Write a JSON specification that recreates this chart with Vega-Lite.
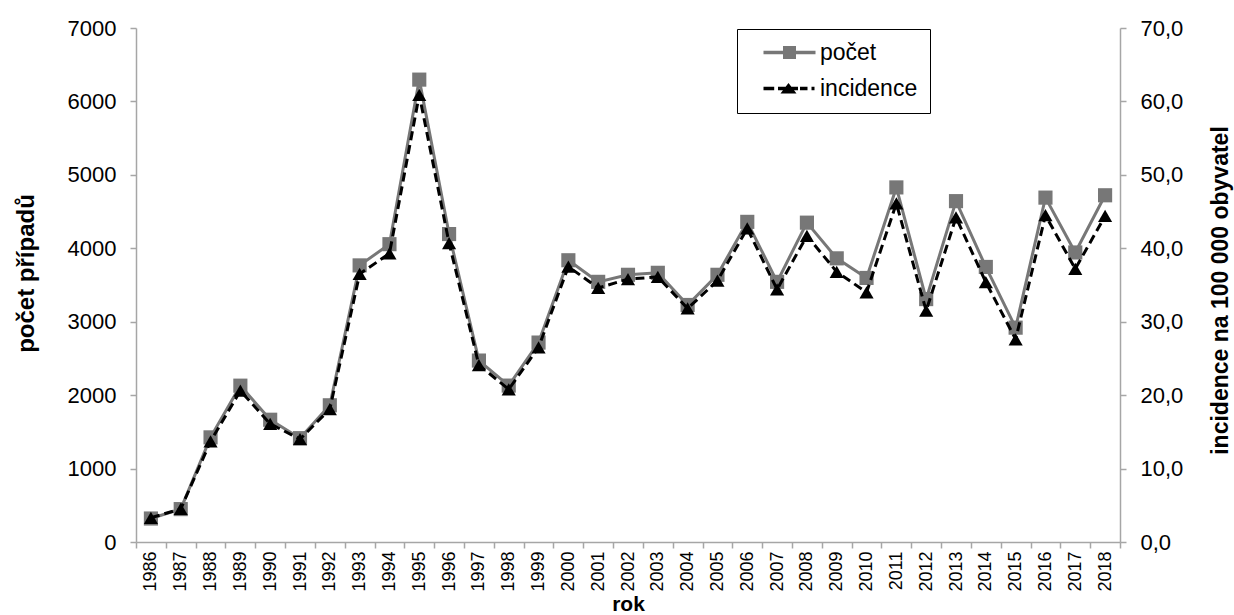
{
  "$schema": "https://vega.github.io/schema/vega-lite/v6.json",
  "width": 984,
  "height": 514,
  "autosize": {"type": "none"},
  "padding": {"left": 136, "top": 28, "right": 114, "bottom": 73},
  "background": "white",
  "config": {
    "view": {"stroke": null},
    "font": "Liberation Sans",
    "axis": {"grid": false, "domainColor": "#a6a6a6", "tickColor": "#a6a6a6", "labelColor": "black", "titleColor": "black", "labelFont": "Liberation Sans", "titleFont": "Liberation Sans", "domainWidth": 1.5, "tickWidth": 1.5}
  },
  "data": {
    "values": [
      {"rok": 1986, "pocet": 320, "incidence": 3.3},
      {"rok": 1987, "pocet": 448, "incidence": 4.5},
      {"rok": 1988, "pocet": 1425, "incidence": 13.7},
      {"rok": 1989, "pocet": 2129, "incidence": 20.6},
      {"rok": 1990, "pocet": 1665, "incidence": 16.1},
      {"rok": 1991, "pocet": 1414, "incidence": 14.0},
      {"rok": 1992, "pocet": 1862, "incidence": 18.1},
      {"rok": 1993, "pocet": 3767, "incidence": 36.5},
      {"rok": 1994, "pocet": 4056, "incidence": 39.3},
      {"rok": 1995, "pocet": 6297, "incidence": 60.9},
      {"rok": 1996, "pocet": 4194, "incidence": 40.7},
      {"rok": 1997, "pocet": 2471, "incidence": 24.1},
      {"rok": 1998, "pocet": 2130, "incidence": 20.8},
      {"rok": 1999, "pocet": 2716, "incidence": 26.5},
      {"rok": 2000, "pocet": 3837, "incidence": 37.5},
      {"rok": 2001, "pocet": 3543, "incidence": 34.6},
      {"rok": 2002, "pocet": 3639, "incidence": 35.8},
      {"rok": 2003, "pocet": 3666, "incidence": 36.1},
      {"rok": 2004, "pocet": 3228, "incidence": 31.8},
      {"rok": 2005, "pocet": 3639, "incidence": 35.6},
      {"rok": 2006, "pocet": 4360, "incidence": 42.7},
      {"rok": 2007, "pocet": 3543, "incidence": 34.4},
      {"rok": 2008, "pocet": 4349, "incidence": 41.7},
      {"rok": 2009, "pocet": 3863, "incidence": 36.8},
      {"rok": 2010, "pocet": 3596, "incidence": 34.0},
      {"rok": 2011, "pocet": 4829, "incidence": 46.1},
      {"rok": 2012, "pocet": 3308, "incidence": 31.5},
      {"rok": 2013, "pocet": 4642, "incidence": 44.2},
      {"rok": 2014, "pocet": 3746, "incidence": 35.4},
      {"rok": 2015, "pocet": 2919, "incidence": 27.6},
      {"rok": 2016, "pocet": 4690, "incidence": 44.5},
      {"rok": 2017, "pocet": 3943, "incidence": 37.2},
      {"rok": 2018, "pocet": 4722, "incidence": 44.4}
    ]
  },
  "encoding": {
    "x": {
      "field": "rok", "type": "ordinal", "bandPosition": 0.5,
      "scale": {"type": "band", "paddingInner": 0, "paddingOuter": 0},
      "axis": {"title": "rok", "titleFontSize": 21, "titleFontWeight": "bold", "titlePadding": 2, "labelAngle": -90, "labelFontSize": 18, "labelPadding": 3, "tickBand": "extent", "tickSize": 6, "labelBaseline": "middle"}
    }
  },
  "layer": [
    {
      "mark": {"type": "line", "strokeWidth": 3, "color": "#777777", "point": {"shape": "square", "size": 200, "filled": true, "opacity": 1}},
      "encoding": {
        "y": {
          "field": "pocet", "type": "quantitative",
          "scale": {"domain": [0, 7000], "nice": false},
          "axis": {"title": "počet případů", "titleFontSize": 24, "titleFontWeight": "bold", "titleX": -110, "titleY": 245, "titleAlign": "center", "titleBaseline": "middle", "titleAngle": -90, "labelFontSize": 22, "labelPadding": 14, "tickSize": 6, "format": "d", "values": [0, 1000, 2000, 3000, 4000, 5000, 6000, 7000]}
        },
        "color": {
          "datum": "počet",
          "scale": {"domain": ["počet", "incidence"], "range": ["#777777", "#000000"]},
          "legend": {
            "orient": "none", "legendX": 601, "legendY": 1, "title": null,
            "strokeColor": "black", "fillColor": "white", "padding": 12,
            "labelFontSize": 23, "labelFont": "Liberation Sans", "labelColor": "black",
            "symbolSize": 400, "labelOffset": 48, "rowPadding": 12,
            "encode": {
              "symbols": {
                "update": {
                  "shape": {"signal": "datum.value === 'počet' ? 'M0.3,-0.17H5.5V0.17H0.3Z M2.25,-0.65H3.55V0.65H2.25Z' : 'M0.3,-0.17H1.37V0.17H0.3Z M1.75,-0.17H3.75V0.17H1.75Z M2.8,-0.55L3.6,0.5H2.0Z M3.95,-0.17H4.7V0.17H3.95Z M5.1,-0.17H5.4V0.17H5.1Z'"},
                  "fill": {"signal": "datum.value === 'počet' ? '#777777' : '#000000'"},
                  "strokeWidth": {"value": 0},
                  "opacity": {"value": 1}
                }
              }
            }
          }
        }
      }
    },
    {
      "mark": {"type": "line", "strokeWidth": 3, "strokeDash": [9, 5], "point": {"shape": "triangle-up", "size": 200, "filled": true, "opacity": 1}},
      "encoding": {
        "y": {
          "field": "incidence", "type": "quantitative",
          "scale": {"domain": [0, 70], "nice": false},
          "axis": {"orient": "right", "title": "incidence na 100 000 obyvatel", "titleX": 100, "titleY": 262, "titleAlign": "center", "titleBaseline": "middle", "titleAngle": -90, "titleFontSize": 23, "titleFontWeight": "bold", "labelFontSize": 22, "labelPadding": 14, "tickSize": 6, "values": [0, 10, 20, 30, 40, 50, 60, 70], "labelExpr": "replace(format(datum.value, '.1f'), '.', ',')"}
        },
        "color": {"datum": "incidence"}
      }
    }
  ],
  "resolve": {"scale": {"y": "independent"}}
}
